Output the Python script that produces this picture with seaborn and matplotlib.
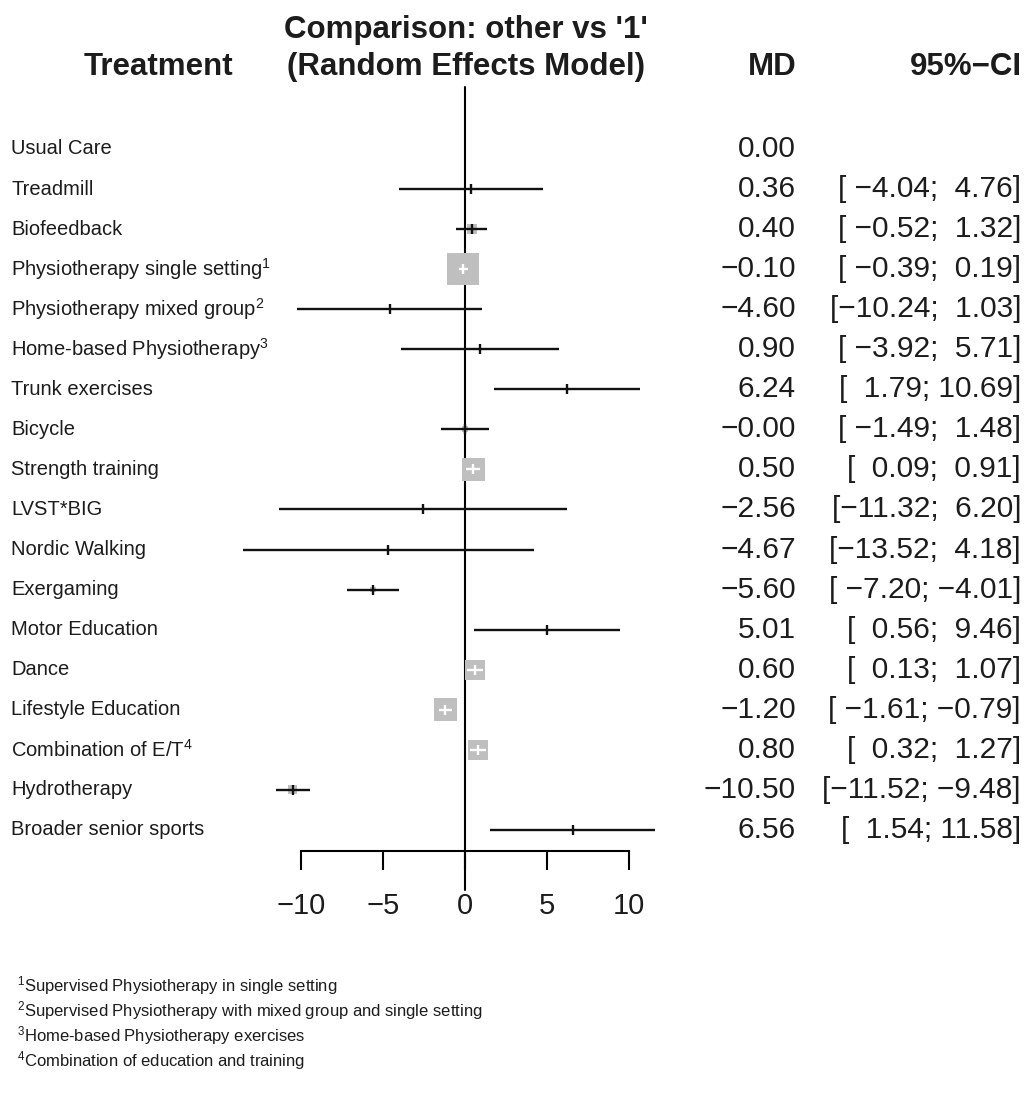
import numpy as np
import pandas as pd
import matplotlib
matplotlib.use("Agg")
import matplotlib.pyplot as plt
import seaborn as sns
from matplotlib.transforms import blended_transform_factory

# ---------------- data ----------------
treatments = ["Usual Care", "Treadmill", "Biofeedback", "Physiotherapy single setting",
              "Physiotherapy mixed group", "Home-based Physiotherapy", "Trunk exercises",
              "Bicycle", "Strength training", "LVST*BIG", "Nordic Walking", "Exergaming",
              "Motor Education", "Dance", "Lifestyle Education", "Combination of E/T",
              "Hydrotherapy", "Broader senior sports"]
footnote_marks = ["", "", "", "1", "2", "3", "", "", "", "", "", "", "", "", "", "4", "", ""]
md = [0.00, 0.36, 0.40, -0.10, -4.60, 0.90, 6.24, -0.00, 0.50, -2.56, -4.67, -5.60,
      5.01, 0.60, -1.20, 0.80, -10.50, 6.56]
ci_lower = [np.nan, -4.04, -0.52, -0.39, -10.24, -3.92, 1.79, -1.49, 0.09, -11.32, -13.52,
            -7.20, 0.56, 0.13, -1.61, 0.32, -11.52, 1.54]
ci_upper = [np.nan, 4.76, 1.32, 0.19, 1.03, 5.71, 10.69, 1.48, 0.91, 6.20, 4.18,
            -4.01, 9.46, 1.07, -0.79, 1.27, -9.48, 11.58]
x_ticks = [-10, -5, 0, 5, 10]
footnotes = ["Supervised Physiotherapy in single setting",
             "Supervised Physiotherapy with mixed group and single setting",
             "Home-based Physiotherapy exercises",
             "Combination of education and training"]

# ---------------- style ----------------
sns.set_theme(style="white")
plt.rcParams["font.family"] = ["Liberation Sans", "DejaVu Sans"]
plt.rcParams["mathtext.default"] = "regular"
plt.rcParams["axes.unicode_minus"] = True
TXT = "#1c1c1c"

W, H = 1026, 1100
fig = plt.figure(figsize=(W / 100, H / 100), dpi=100)
fig.patch.set_facecolor("white")

ax_top_px, ax_bot_px = 110, 851
ax_left_px, ax_right_px = 200, 700
ax = fig.add_axes([ax_left_px / W, 1 - ax_bot_px / H,
                   (ax_right_px - ax_left_px) / W, (ax_bot_px - ax_top_px) / H])
ax.set_facecolor("none")

# data-to-pixel scale: x=0 at px 465, 16.4 px per unit; rows at px 149 + 40.05*i
px_per_unit = 16.4
x0_px = 465
row0_px, row_step = 149, 40.05
ax.set_xlim((ax_left_px - x0_px) / px_per_unit, (ax_right_px - x0_px) / px_per_unit)
ax.set_ylim((ax_bot_px - row0_px) / row_step, (ax_top_px - row0_px) / row_step)

df = pd.DataFrame({"treatment": treatments, "md": md, "lo": ci_lower, "hi": ci_upper})
df["row"] = np.arange(len(df))
est = df.dropna().copy()

# square side proportional to precision (1 / CI width)
side_px = 18.6 / (est["hi"] - est["lo"])
est["s"] = (side_px * 0.72) ** 2
inside = (est["hi"] - est["lo"]) * px_per_unit < side_px

# reference line at 0
ax.axvline(0, ymin=-(890 - ax_bot_px) / (ax_bot_px - ax_top_px),
           ymax=1 + (ax_top_px - 87) / (ax_bot_px - ax_top_px),
           color="black", lw=1.5, clip_on=False, zorder=1)

sns.scatterplot(data=est, x="md", y="row", marker="s", s=est["s"].values,
                color="#bfbfbf", linewidth=0, ax=ax, zorder=2, legend=False)

line_cols = np.where(inside, "white", "#111111")
ax.hlines(est["row"], est["lo"], est["hi"], colors=line_cols, lw=1.7, zorder=3)
tick_h = 5 / row_step
ax.vlines(est["md"], est["row"] - tick_h, est["row"] + tick_h, colors=line_cols, lw=1.7, zorder=3)

# axis styling
for sp in ["top", "right", "left"]:
    ax.spines[sp].set_visible(False)
ax.spines["bottom"].set_bounds(x_ticks[0], x_ticks[-1])
ax.spines["bottom"].set_linewidth(1.5)
ax.spines["bottom"].set_color("black")
ax.set_xticks(x_ticks)
ax.set_xticklabels([f"{t}".replace("-", "\u2212") for t in x_ticks])
ax.tick_params(axis="x", direction="out", length=13.7, width=1.5, color="black",
               labelsize=21, labelcolor=TXT, pad=16, bottom=True)
ax.set_yticks([])
ax.set_xlabel("")
ax.set_ylabel("")
ax.grid(False)

# row labels and value columns
tr = blended_transform_factory(fig.transFigure, ax.transData)
for i, row in df.iterrows():
    name = row["treatment"]
    if footnote_marks[i]:
        name = name + "$^{" + footnote_marks[i] + "}$"
    ax.text(11 / W, row["row"], name, transform=tr, ha="left", va="center",
            fontsize=14.5, color=TXT, clip_on=False)
    ax.text(796 / W, row["row"], f"{row['md']:.2f}".replace("-", "\u2212"), transform=tr,
            ha="right", va="center", fontsize=21.5, color=TXT, clip_on=False)
    if not np.isnan(row["lo"]):
        ci = f"[{row['lo']:6.2f}; {row['hi']:5.2f}]".replace("-", "\u2212")
        ax.text(1021 / W, row["row"], ci, transform=tr, ha="right", va="center",
                fontsize=21.5, color=TXT, clip_on=False)

# headers
hdr = dict(fontsize=22.5, fontweight="bold", color=TXT)
fig.text(158 / W, 1 - 67 / H, "Treatment", ha="center", va="center", **hdr)
fig.text(466 / W, 1 - 30 / H, "Comparison: other vs '1'", ha="center", va="center", **hdr)
fig.text(466 / W, 1 - 67 / H, "(Random Effects Model)", ha="center", va="center", **hdr)
fig.text(797 / W, 1 - 67 / H, "MD", ha="right", va="center", **hdr)
fig.text(1022 / W, 1 - 67 / H, "95%\u2212CI", ha="right", va="center", **hdr)

# footnotes
for k, note in enumerate(footnotes):
    fig.text(17 / W, 1 - (986 + 25 * k) / H, "$^{" + str(k + 1) + "}$" + note,
             ha="left", va="center", fontsize=12, color=TXT)

fig.savefig("out.png", dpi=100, facecolor="white")
